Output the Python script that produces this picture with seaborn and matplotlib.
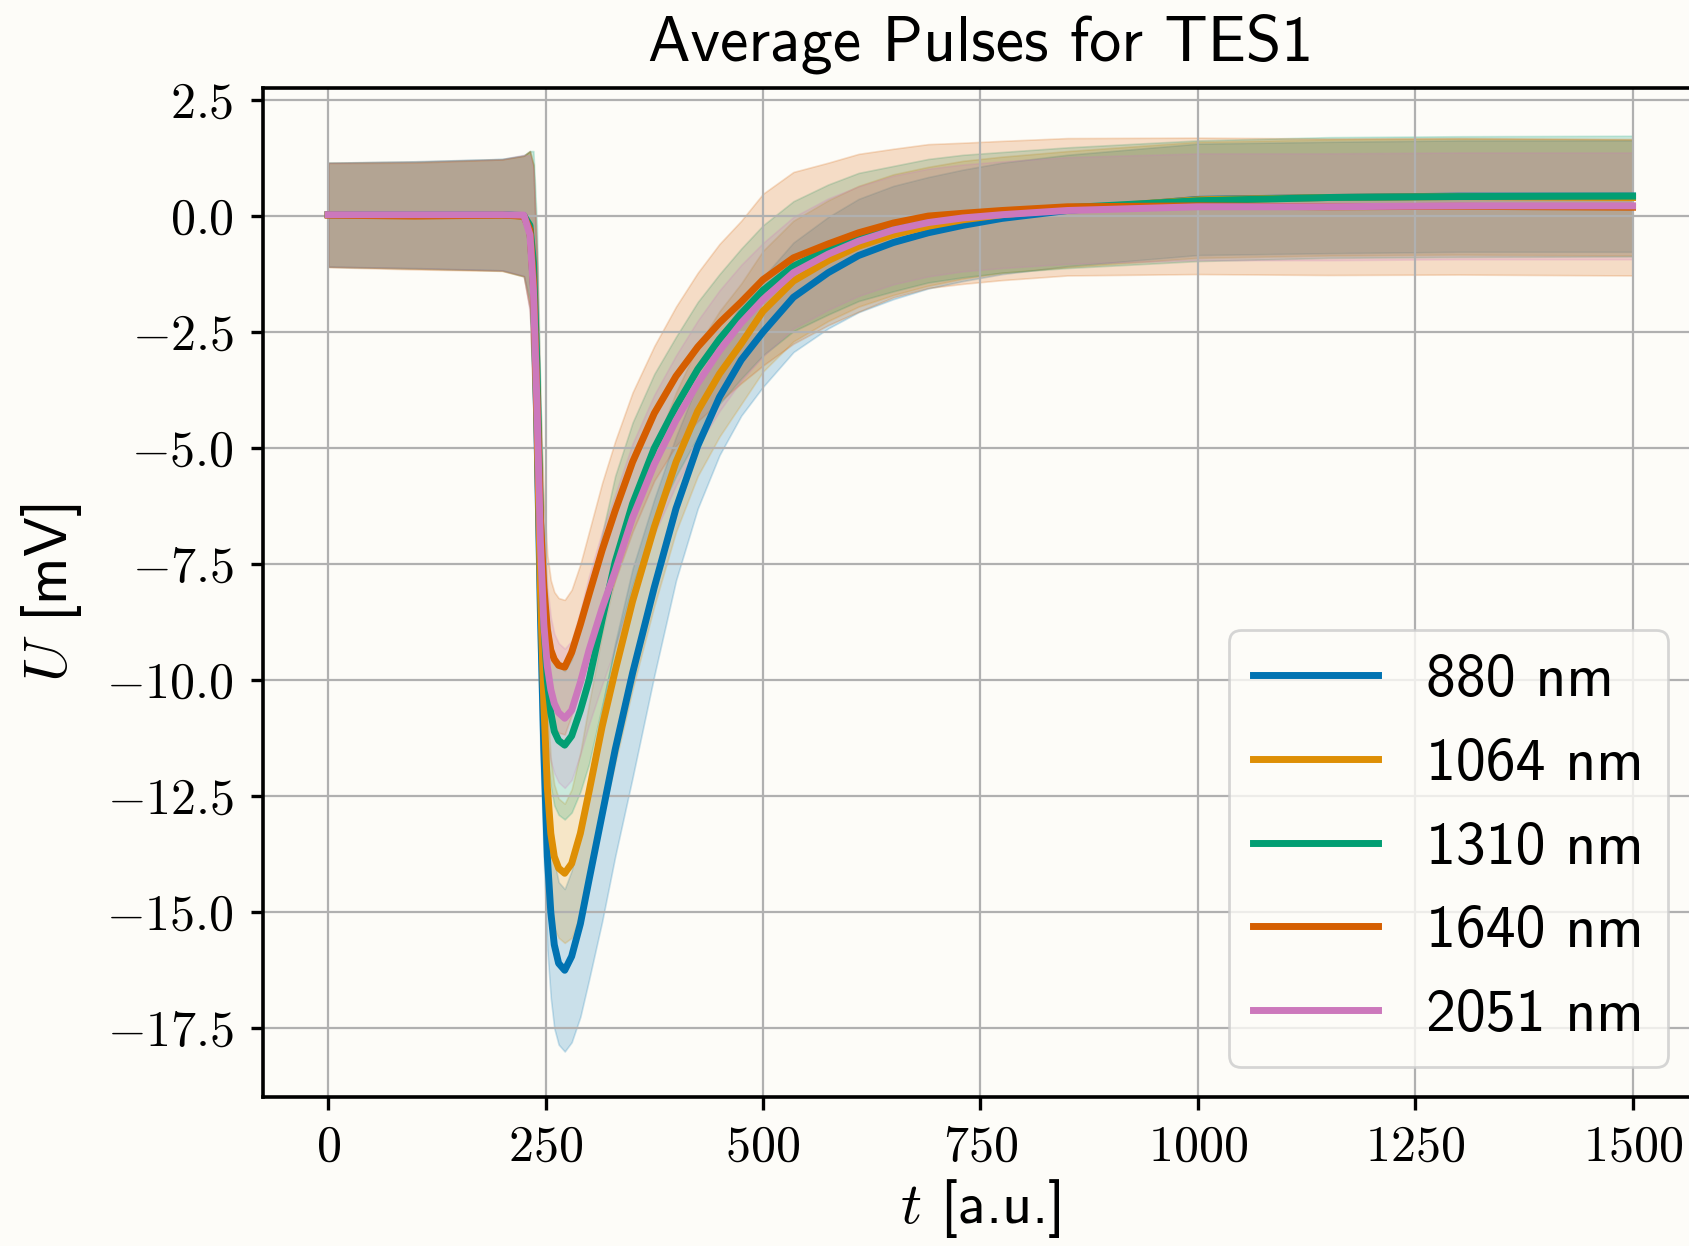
import numpy as np
import pandas as pd
import matplotlib
matplotlib.use("Agg")
import matplotlib.pyplot as plt
from matplotlib.ticker import FuncFormatter
import seaborn as sns

# Sample times of the averaged pulses
t = [0, 100, 200, 225, 232, 236, 240, 244, 248, 252, 256, 260, 265, 272,
     280, 290, 300, 315, 330, 350, 375, 400, 425, 450, 475, 500,
     535, 575, 610, 650, 690, 730, 775, 850, 1000, 1150, 1300, 1500]

wavelengths = ["880 nm", "1064 nm", "1310 nm", "1640 nm", "2051 nm"]

# Mean pulse amplitude U [mV]
mean_880 = [0.03, 0.02, 0.03, 0.0, -0.3, -1.5, -4.5, -8.5, -11.5, -13.8, -15.0, -15.7, -16.1, -16.25,
            -15.95, -15.25, -14.3, -12.9, -11.5, -9.85, -8.0, -6.3, -4.95, -3.9, -3.1, -2.5,
            -1.75, -1.22, -0.85, -0.57, -0.36, -0.2, -0.05, 0.12, 0.36, 0.40, 0.43, 0.43]
mean_1064 = [0.03, 0.02, 0.02, 0.0, -0.3, -1.5, -4.3, -8.0, -10.5, -12.3, -13.3, -13.8, -14.05, -14.16,
             -13.95, -13.3, -12.4, -11.0, -9.8, -8.3, -6.7, -5.3, -4.2, -3.4, -2.75, -2.05,
             -1.4, -0.96, -0.65, -0.4, -0.22, -0.08, 0.03, 0.15, 0.35, 0.40, 0.42, 0.40]
mean_1310 = [0.03, 0.03, 0.03, 0.01, -0.2, -1.0, -3.2, -6.5, -8.8, -10.0, -10.7, -11.1, -11.3, -11.4,
             -11.2, -10.65, -10.0, -8.7, -7.45, -6.2, -5.0, -4.1, -3.3, -2.65, -2.1, -1.6,
             -1.08, -0.72, -0.45, -0.27, -0.1, 0.0, 0.08, 0.18, 0.33, 0.40, 0.42, 0.43]
mean_1640 = [0.02, 0.0, 0.02, 0.0, -0.3, -1.4, -3.8, -6.5, -8.0, -8.9, -9.35, -9.55, -9.68, -9.72,
             -9.4, -8.8, -8.15, -7.2, -6.35, -5.3, -4.25, -3.45, -2.82, -2.3, -1.85, -1.37,
             -0.9, -0.6, -0.36, -0.15, 0.0, 0.06, 0.12, 0.2, 0.22, 0.2, 0.21, 0.19]
mean_2051 = [0.03, 0.03, 0.03, 0.02, -0.4, -1.6, -4.0, -7.0, -8.8, -9.7, -10.2, -10.5, -10.7, -10.82,
             -10.65, -10.05, -9.35, -8.45, -7.65, -6.5, -5.35, -4.4, -3.6, -2.9, -2.3, -1.8,
             -1.22, -0.82, -0.54, -0.3, -0.14, -0.04, 0.03, 0.12, 0.2, 0.2, 0.22, 0.22]

# Standard deviation of the pulses [mV]
std_880 = [1.12, 1.15, 1.2, 1.3, 1.7, 2.6, 3.4, 3.0, 2.4, 2.0, 1.85, 1.8, 1.75, 1.75,
           1.85, 2.0, 2.15, 2.3, 2.3, 2.25, 1.9, 1.55, 1.35, 1.25, 1.2, 1.18,
           1.18, 1.2, 1.22, 1.22, 1.2, 1.2, 1.2, 1.2, 1.2, 1.2, 1.2, 1.2]
std_1064 = [1.12, 1.15, 1.2, 1.3, 1.7, 2.6, 3.2, 2.8, 2.2, 1.8, 1.6, 1.55, 1.5, 1.5,
            1.6, 1.75, 1.9, 2.0, 2.0, 1.9, 1.7, 1.5, 1.4, 1.35, 1.3, 1.3,
            1.3, 1.3, 1.3, 1.3, 1.28, 1.27, 1.25, 1.25, 1.25, 1.25, 1.25, 1.25]
std_1310 = [1.12, 1.15, 1.2, 1.3, 1.6, 2.4, 3.0, 2.6, 2.0, 1.7, 1.6, 1.6, 1.6, 1.6,
            1.65, 1.75, 1.8, 1.85, 1.85, 1.75, 1.6, 1.5, 1.45, 1.4, 1.4, 1.4,
            1.4, 1.4, 1.38, 1.35, 1.33, 1.32, 1.3, 1.3, 1.3, 1.3, 1.3, 1.3]
std_1640 = [1.12, 1.15, 1.2, 1.3, 1.7, 2.5, 3.0, 2.5, 1.9, 1.6, 1.5, 1.45, 1.45, 1.45,
            1.35, 1.3, 1.35, 1.45, 1.5, 1.5, 1.45, 1.5, 1.6, 1.7, 1.75, 1.85,
            1.85, 1.75, 1.7, 1.6, 1.55, 1.52, 1.5, 1.48, 1.47, 1.47, 1.47, 1.47]
std_2051 = [1.12, 1.15, 1.2, 1.3, 1.7, 2.6, 3.2, 2.7, 2.0, 1.7, 1.55, 1.5, 1.5, 1.5,
            1.5, 1.55, 1.6, 1.65, 1.65, 1.6, 1.5, 1.4, 1.35, 1.3, 1.25, 1.22,
            1.2, 1.2, 1.18, 1.17, 1.16, 1.15, 1.15, 1.15, 1.15, 1.15, 1.15, 1.15]

x_ticks = [0, 250, 500, 750, 1000, 1250, 1500]
y_ticks = [-17.5, -15.0, -12.5, -10.0, -7.5, -5.0, -2.5, 0.0, 2.5]

means = [mean_880, mean_1064, mean_1310, mean_1640, mean_2051]
stds = [std_880, std_1064, std_1310, std_1640, std_2051]

frames = []
for name, m, s in zip(wavelengths, means, stds):
    frames.append(pd.DataFrame({"t": t, "U": m, "sd": s, "wavelength": name}))
df = pd.concat(frames, ignore_index=True)

plt.rcParams["mathtext.fontset"] = "cm"
plt.rcParams["font.family"] = ["cmss10", "DejaVu Sans"]
plt.rcParams["axes.unicode_minus"] = False

bg = "#fdfcf8"
palette = sns.color_palette("colorblind", len(wavelengths))

fig = plt.figure(figsize=(8.45, 6.23), dpi=200, facecolor=bg)
ax = fig.add_axes([0.1556, 0.1196, 0.849, 0.8098])
ax.set_facecolor(bg)

# one standard deviation band around each mean pulse
for name, color in zip(wavelengths, palette):
    sub = df[df["wavelength"] == name]
    ax.fill_between(sub["t"], sub["U"] - sub["sd"], sub["U"] + sub["sd"],
                    color=color, alpha=0.2, linewidth=0.6)

sns.lineplot(data=df, x="t", y="U", hue="wavelength", hue_order=wavelengths,
             palette=palette, linewidth=2.5, errorbar=None, ax=ax, legend=True)

ax.set_xlim(-75, 1575)
ax.set_ylim(-18.98, 2.76)
ax.set_xticks(x_ticks)
ax.set_yticks(y_ticks)
ax.xaxis.set_major_formatter(FuncFormatter(lambda v, p: f"${v:.0f}$"))
ax.yaxis.set_major_formatter(FuncFormatter(lambda v, p: f"${v:.1f}$"))
ax.tick_params(axis="both", labelsize=18, length=4.5, width=1.2, pad=6, color="black")
ax.grid(True, color="#b0b0b0", linewidth=0.8)
for sp in ax.spines.values():
    sp.set_color("black")
    sp.set_linewidth(1.3)

ax.set_xlabel(r"$t$ [a.u.]", fontsize=21, labelpad=2)
ax.set_ylabel(r"$U$ [mV]", fontsize=21.5, labelpad=8)
ax.set_title("Average Pulses for TES1", fontsize=23, pad=10)

handles, labels = ax.get_legend_handles_labels()
leg = ax.legend(handles, labels, loc="lower right", fontsize=21.5, frameon=True,
                handlelength=2.1, borderaxespad=0.5)
leg.get_frame().set_facecolor(bg)
for h in leg.get_lines():
    h.set_linewidth(2.5)

fig.savefig("out.png", dpi=200, facecolor=bg)
